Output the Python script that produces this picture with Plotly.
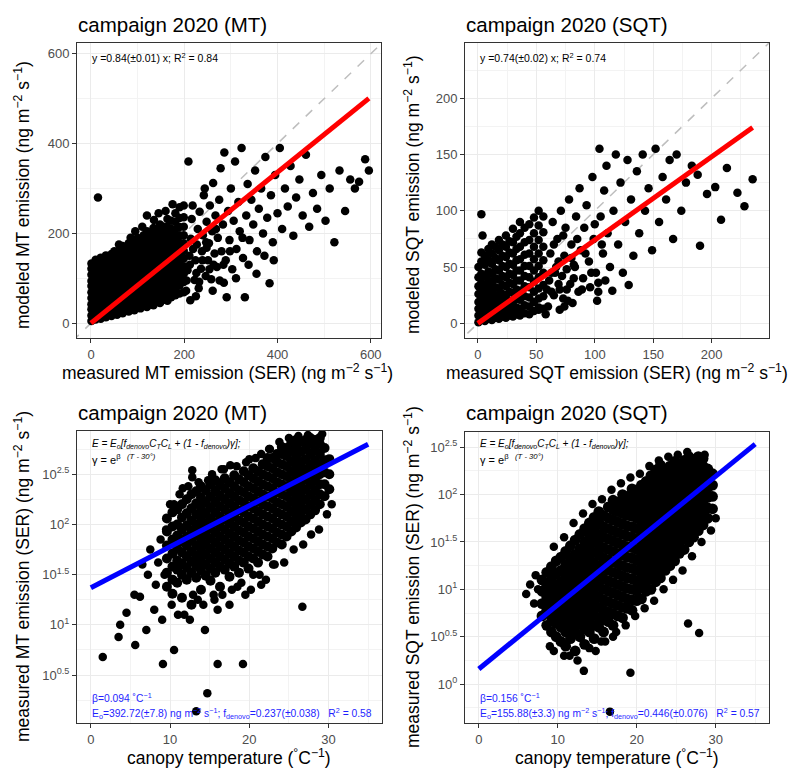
import math
import plotly.graph_objects as go

# ---------------- data ----------------
# Panel 1: MT, measured (x) vs modeled (y). Dense core read column by column ...
mt_core_measured = [1, 5, 10, 15, 21, 26, 32, 38, 44, 50, 56, 62, 68, 75, 81, 87, 93, 100, 106, 113, 120, 127, 134,
                    141, 148, 156, 164, 172, 181, 190, 199]
mt_core_modeled = [
    [5, 17, 31, 42, 56, 69, 83, 94, 108, 121, 133],
    [12, 24, 37, 49, 62, 76, 88, 101, 115, 127],
    [8, 19, 28, 44, 53, 67, 80, 91, 104, 118, 129, 141],
    [14, 26, 39, 50, 63, 72, 86, 97, 110, 123, 136, 280],
    [10, 22, 34, 47, 58, 71, 82, 95, 106, 119, 131, 146],
    [17, 29, 41, 54, 66, 78, 90, 103, 114, 127, 140],
    [13, 25, 38, 50, 61, 74, 87, 99, 111, 124, 137, 151],
    [20, 32, 45, 57, 68, 81, 93, 106, 119, 130, 144],
    [16, 28, 40, 53, 65, 77, 89, 102, 114, 126, 139, 154],
    [22, 35, 47, 60, 72, 85, 96, 109, 121, 134, 147, 160],
    [19, 31, 43, 56, 69, 80, 92, 105, 117, 130, 142, 157],
    [25, 38, 51, 63, 75, 88, 100, 112, 125, 138, 150, 165],
    [22, 34, 47, 59, 71, 84, 96, 108, 121, 134, 146, 159, 172],
    [28, 40, 53, 66, 78, 90, 103, 115, 127, 140, 152, 168],
    [26, 37, 49, 62, 74, 87, 99, 111, 124, 136, 149, 162, 178],
    [32, 44, 57, 69, 82, 94, 106, 119, 131, 144, 157, 170],
    [29, 41, 54, 66, 79, 91, 103, 116, 128, 141, 154, 166, 183],
    [35, 47, 60, 72, 85, 97, 110, 122, 135, 148, 160, 174, 190],
    [33, 45, 58, 70, 82, 95, 107, 120, 132, 145, 158, 171, 186],
    [38, 51, 63, 76, 88, 101, 113, 126, 139, 151, 164, 178, 196],
    [36, 48, 61, 73, 86, 98, 111, 123, 136, 149, 162, 176, 190, 205],
    [42, 55, 67, 80, 92, 105, 117, 130, 143, 155, 168, 183, 198],
    [40, 52, 65, 78, 90, 103, 115, 128, 141, 154, 168, 182, 197, 212],
    [47, 60, 72, 85, 97, 110, 122, 135, 148, 161, 175, 190, 206],
    [45, 58, 70, 83, 96, 108, 121, 134, 147, 160, 174, 189, 204, 220],
    [52, 65, 77, 90, 103, 116, 129, 142, 155, 169, 184, 199, 215],
    [50, 62, 75, 88, 101, 114, 127, 140, 154, 168, 183, 198, 214, 232],
    [58, 71, 84, 97, 110, 123, 137, 150, 164, 179, 194, 210, 228],
    [62, 76, 90, 104, 118, 132, 146, 161, 176, 192, 209, 226, 245],
    [66, 84, 100, 116, 131, 147, 163, 179, 196, 214, 234, 258],
    [69, 92, 110, 127, 144, 161, 178, 196, 215, 236, 262],
]
# ... and the scattered points beyond it
mt_extra_measured = [204, 207, 211, 214, 216, 218, 222, 224, 227, 229, 233, 236, 238, 240, 242, 246, 248, 251, 253,
                     255, 258, 260, 262, 265, 267, 270, 272, 275, 278, 280, 283, 286, 289, 291, 294, 297, 300, 303,
                     306, 309, 312, 316, 319, 323, 326, 330, 333, 336, 340, 344, 348, 352, 356, 360, 365, 369, 374,
                     378, 383, 386, 390, 395, 400, 405, 410, 416, 422, 428, 434, 440, 447, 454, 461, 468, 476, 485,
                     494, 503, 512, 522, 533, 545, 556, 566, 575, 588, 596, 209, 213, 231, 244, 263, 285, 248, 226,
                     205, 212, 219, 225, 232, 239, 247, 254, 261, 268, 276, 284, 298, 311, 325, 338, 355, 372, 392,
                     60, 85, 110, 135, 160, 175, 120, 95, 145]
mt_extra_modeled = [72, 118, 150, 188, 232, 262, 96, 140, 175, 210, 248, 121, 160, 196, 285, 105, 226, 140, 178,
                    262, 98, 205, 312, 155, 240, 125, 190, 275, 345, 160, 220, 380, 140, 58, 250, 185, 300, 120,
                    228, 360, 165, 270, 205, 390, 145, 58, 240, 310, 185, 275, 220, 340, 160, 255, 300, 200, 370,
                    235, 89, 285, 180, 330, 245, 390, 210, 300, 260, 350, 195, 280, 320, 240, 375, 215, 290, 255,
                    330, 228, 300, 180, 340, 250, 320, 300, 315, 365, 340, 360, 51, 78, 300, 130, 90, 168, 112,
                    95, 130, 165, 60, 92, 140, 180, 120, 72, 210, 95, 130, 160, 100, 190, 130, 110, 150, 140,
                    175, 190, 215, 230, 250, 265, 240, 205, 245]

# Panel 2: SQT, measured (x) vs modeled (y); dense core by columns ...
sqt_core_measured = [0.5, 3, 4, 6, 9, 12, 15, 18, 21, 24, 27, 30, 33, 36, 40, 44, 48, 52, 56]
sqt_core_modeled = [
    [1, 7, 13, 19, 26, 33, 41, 50],
    [3, 9, 16, 22, 29, 36, 44, 55, 63, 97],
    [78],
    [2, 8, 14, 20, 27, 34, 42, 52, 60],
    [4, 10, 17, 24, 31, 38, 46, 56, 66],
    [3, 9, 15, 22, 29, 36, 44, 53, 62, 70],
    [5, 11, 18, 25, 32, 40, 48, 58, 68],
    [4, 10, 17, 24, 31, 39, 47, 56, 65, 74],
    [6, 12, 19, 26, 34, 42, 51, 60, 70],
    [5, 11, 18, 25, 33, 41, 50, 59, 68, 78],
    [7, 13, 20, 28, 36, 44, 53, 63, 73],
    [6, 12, 19, 27, 35, 43, 52, 62, 72, 84],
    [8, 14, 22, 30, 38, 47, 56, 66, 77],
    [7, 13, 21, 29, 38, 47, 57, 68, 80, 90],
    [9, 16, 24, 33, 42, 51, 61, 72, 85],
    [8, 15, 23, 32, 41, 51, 62, 74, 88],
    [11, 19, 28, 37, 47, 57, 68, 80, 94],
    [12, 14, 22, 31, 41, 51, 62, 74, 87, 100],
    [13, 24, 34, 45, 56, 68, 81, 95],
]
# ... and the scattered points beyond it
sqt_extra_measured = [60, 61, 62, 64, 65, 67, 68, 70, 71, 72, 74, 75, 77, 78, 79, 80, 81, 83, 84, 86, 87, 88, 90, 91,
                      93, 95, 96, 98, 99, 101, 103, 103, 104, 105, 107, 108, 110, 111, 113, 115, 116, 118, 120, 122,
                      124, 126, 128, 129, 131, 133, 136, 138, 141, 143, 146, 149, 152, 155, 158, 161, 164, 167, 170,
                      174, 178, 183, 188, 190, 196, 203, 208, 213, 222, 228, 235, 63, 69, 73, 82, 66, 76,
                      58, 59, 63, 65, 69, 70, 73, 74, 76, 80, 82, 85, 89, 92, 97, 100, 102, 106, 109]
sqt_extra_modeled = [15, 38, 62, 90, 25, 50, 75, 12, 100, 42, 60, 85, 20, 110, 35, 70, 18, 50, 95, 28, 120, 65, 40,
                     85, 105, 55, 32, 130, 75, 45, 28, 36, 155, 95, 62, 118, 140, 80, 50, 29, 100, 150, 70, 125, 45,
                     90, 145, 34, 110, 60, 135, 80, 150, 100, 120, 65, 155, 90, 130, 110, 145, 75, 150, 100, 125,
                     140, 132, 69, 115, 121, 92, 138, 116, 104, 128, 28, 35, 22, 52, 45, 30,
                     8, 30, 45, 70, 55, 30, 78, 15, 48, 58, 40, 75, 30, 62, 45, 88, 20, 70, 38]

# Panel 3: MT, canopy temperature (°C) vs log10 of measured SER; dense core by columns ...
mt_core_temp = [9.6, 10.3, 10.9, 11.5, 12.1, 12.7, 13.3, 13.9, 14.5, 15.1, 15.7, 16.3, 16.9, 17.5, 18.1, 18.7,
                19.3, 19.9, 20.5, 21.1, 21.7, 22.3, 22.9, 23.5, 24.1, 24.7, 25.3, 25.9, 26.5, 27.1, 27.7, 28.3,
                28.9, 29.5, 30.1]
mt_core_log10_ser = [
    [1.38, 1.52, 1.66, 1.79, 1.93, 2.06],
    [1.31, 1.45, 1.58, 1.71, 1.85, 1.98, 2.12],
    [1.42, 1.55, 1.64, 1.76, 1.89, 2.0, 2.15],
    [1.27, 1.5, 1.61, 1.72, 1.83, 1.95, 2.07, 2.2],
    [1.45, 1.57, 1.68, 1.79, 1.88, 1.99, 2.11, 2.25],
    [1.2, 1.52, 1.63, 1.73, 1.84, 1.94, 2.04, 2.16, 2.3],
    [1.47, 1.59, 1.69, 1.79, 1.9, 2.0, 2.1, 2.21, 2.33],
    [1.35, 1.54, 1.64, 1.75, 1.85, 1.95, 2.06, 2.16, 2.27, 2.38],
    [1.49, 1.6, 1.7, 1.8, 1.9, 2.01, 2.11, 2.22, 2.34],
    [1.44, 1.56, 1.66, 1.76, 1.86, 1.96, 2.06, 2.17, 2.28, 2.4],
    [1.52, 1.62, 1.72, 1.82, 1.92, 2.02, 2.12, 2.23, 2.34, 2.44],
    [1.38, 1.58, 1.68, 1.78, 1.88, 1.98, 2.08, 2.18, 2.29, 2.4],
    [1.55, 1.65, 1.75, 1.85, 1.95, 2.05, 2.15, 2.25, 2.36, 2.46],
    [1.48, 1.61, 1.71, 1.81, 1.91, 2.01, 2.11, 2.21, 2.31, 2.42],
    [1.58, 1.68, 1.78, 1.88, 1.98, 2.08, 2.18, 2.28, 2.38, 2.49],
    [1.52, 1.64, 1.74, 1.84, 1.94, 2.04, 2.14, 2.24, 2.34, 2.45],
    [1.62, 1.72, 1.82, 1.92, 2.02, 2.12, 2.22, 2.32, 2.42, 2.53],
    [1.56, 1.68, 1.78, 1.88, 1.98, 2.08, 2.18, 2.28, 2.38, 2.49],
    [1.66, 1.76, 1.86, 1.96, 2.06, 2.16, 2.26, 2.36, 2.46, 2.56],
    [1.62, 1.73, 1.83, 1.93, 2.03, 2.13, 2.23, 2.33, 2.43, 2.53],
    [1.7, 1.8, 1.9, 2.0, 2.1, 2.2, 2.3, 2.4, 2.5, 2.6],
    [1.68, 1.78, 1.88, 1.98, 2.08, 2.18, 2.28, 2.38, 2.48, 2.58, 2.66],
    [1.76, 1.86, 1.96, 2.06, 2.16, 2.26, 2.36, 2.46, 2.56, 2.66],
    [1.82, 1.92, 2.02, 2.12, 2.22, 2.32, 2.42, 2.52, 2.62, 2.7],
    [1.8, 1.9, 2.0, 2.1, 2.2, 2.3, 2.4, 2.5, 2.6, 2.7, 2.77],
    [1.88, 1.98, 2.08, 2.18, 2.28, 2.38, 2.48, 2.58, 2.68, 2.76],
    [1.93, 2.03, 2.13, 2.23, 2.33, 2.43, 2.53, 2.63, 2.73, 2.81],
    [1.97, 2.07, 2.17, 2.27, 2.37, 2.47, 2.57, 2.67, 2.77, 2.84],
    [2.02, 2.12, 2.22, 2.32, 2.42, 2.52, 2.62, 2.72, 2.82],
    [2.05, 2.15, 2.25, 2.35, 2.45, 2.55, 2.65, 2.75, 2.84],
    [2.1, 2.2, 2.3, 2.4, 2.5, 2.6, 2.7, 2.8, 2.86],
    [2.14, 2.24, 2.34, 2.44, 2.54, 2.64, 2.74, 2.84],
    [2.2, 2.3, 2.4, 2.5, 2.6, 2.7, 2.8, 2.86],
    [2.28, 2.4, 2.52, 2.64, 2.76],
    [2.35, 2.5, 2.65],
]
# ... and the scattered points around it
mt_extra_temp = [1.5, 3.5, 3.7, 4.5, 5.5, 5.6, 6.2, 6.5, 7.0, 7.2, 7.5, 8.0, 8.2, 8.5, 8.8, 9.1, 9.0, 9.3, 9.5,
                 10.5, 11.6, 12.8, 12.8, 13.3, 14.7, 14.8, 16.0, 16.0, 17.6, 19.2, 19.5, 21.5, 26.7, 12.5, 14.4,
                 17.5, 11.0, 13.5, 15.5, 18.5, 20.5, 23.0, 10.0, 16.5, 20.0, 22.5,
                 10.5, 11.2, 12.3, 13.6, 15.3, 16.8, 18.4, 19.6, 20.8, 21.5, 22.6, 23.8, 25.0, 26.2, 27.4, 29.2,
                 10.2, 11.8, 12.9, 14.2, 15.6, 16.6, 17.8, 19.0, 20.2, 21.3, 22.1, 23.2, 24.4, 25.6, 26.8, 27.8,
                 28.8, 29.8, 30.4]
mt_extra_log10_ser = [0.68, 0.88, 1.0, 1.12, 1.3, 0.8, 1.28, 1.6, 0.95, 1.5, 1.75, 1.15, 1.4, 1.62, 1.85, 0.61,
                      1.05, 1.5, 1.95, 0.75, 2.36, 2.47, 2.54, 0.14, 0.32, 2.44, 0.61, 1.15, 2.59, 0.61, 1.3, 1.4,
                      1.18, 1.05, 0.95, 1.2, 1.1, 1.25, 1.3, 1.38, 1.5, 1.6, 2.2, 2.55, 2.65, 2.75,
                      2.2, 2.3, 2.38, 2.42, 2.5, 2.55, 2.58, 2.62, 2.66, 2.7, 2.75, 2.82, 2.86, 2.88, 2.89, 2.9,
                      1.2, 1.1, 1.3, 1.2, 1.25, 1.3, 1.35, 1.42, 1.35, 1.5, 1.45, 1.6, 1.62, 1.75, 1.8, 1.9,
                      1.95, 2.1, 2.2]

# Panel 4: SQT, canopy temperature (°C) vs log10 of measured SER; dense core by columns ...
sqt_core_temp = [8.0, 8.6, 9.2, 9.8, 10.4, 11.0, 11.6, 12.2, 12.8, 13.4, 14.0, 14.6, 15.2, 15.8, 16.4, 17.0,
                 17.6, 18.2, 18.8, 19.4, 20.0, 20.6, 21.2, 21.8, 22.4, 23.0, 23.6, 24.2, 24.8, 25.4, 26.0, 26.6,
                 27.2, 27.8, 28.4, 29.0, 29.6]
sqt_core_log10_ser = [
    [0.72, 0.85, 0.98, 1.1],
    [0.62, 0.78, 0.92, 1.04, 1.18],
    [0.55, 0.7, 0.84, 0.97, 1.1, 1.24],
    [0.5, 0.64, 0.77, 0.9, 1.03, 1.16, 1.3],
    [0.45, 0.6, 0.72, 0.84, 0.96, 1.08, 1.2, 1.34],
    [0.4, 0.55, 0.68, 0.79, 0.9, 1.02, 1.14, 1.26, 1.4],
    [0.48, 0.62, 0.74, 0.85, 0.96, 1.08, 1.2, 1.32, 1.46],
    [0.35, 0.55, 0.68, 0.8, 0.91, 1.02, 1.13, 1.25, 1.37, 1.52],
    [0.5, 0.63, 0.75, 0.86, 0.97, 1.08, 1.19, 1.31, 1.43, 1.58],
    [0.42, 0.58, 0.7, 0.81, 0.92, 1.03, 1.14, 1.25, 1.37, 1.5, 1.64],
    [0.55, 0.66, 0.77, 0.88, 0.99, 1.1, 1.21, 1.32, 1.44, 1.57, 1.7],
    [0.48, 0.62, 0.73, 0.84, 0.95, 1.06, 1.17, 1.28, 1.39, 1.51, 1.64, 1.76],
    [0.6, 0.7, 0.81, 0.92, 1.03, 1.14, 1.25, 1.36, 1.47, 1.58, 1.71, 1.82],
    [0.55, 0.68, 0.78, 0.89, 1.0, 1.11, 1.22, 1.33, 1.44, 1.55, 1.66, 1.78],
    [0.66, 0.76, 0.87, 0.98, 1.09, 1.2, 1.31, 1.42, 1.53, 1.64, 1.75, 1.87],
    [0.62, 0.74, 0.85, 0.96, 1.07, 1.18, 1.29, 1.4, 1.51, 1.62, 1.73, 1.84, 1.94],
    [0.72, 0.83, 0.94, 1.05, 1.16, 1.27, 1.38, 1.49, 1.6, 1.71, 1.82, 1.92],
    [0.7, 0.81, 0.92, 1.03, 1.14, 1.25, 1.36, 1.47, 1.58, 1.69, 1.8, 1.9, 2.0],
    [0.8, 0.9, 1.01, 1.12, 1.23, 1.34, 1.45, 1.56, 1.67, 1.78, 1.88, 1.98],
    [0.78, 0.89, 1.0, 1.11, 1.22, 1.33, 1.44, 1.55, 1.66, 1.77, 1.87, 1.97, 2.06],
    [0.88, 0.98, 1.09, 1.2, 1.31, 1.42, 1.53, 1.64, 1.75, 1.86, 1.96, 2.05],
    [0.9, 1.02, 1.13, 1.24, 1.35, 1.46, 1.57, 1.68, 1.79, 1.9, 2.0, 2.1],
    [0.98, 1.08, 1.19, 1.3, 1.41, 1.52, 1.63, 1.74, 1.85, 1.95, 2.05, 2.14],
    [1.0, 1.12, 1.23, 1.34, 1.45, 1.56, 1.67, 1.78, 1.89, 1.99, 2.09, 2.2],
    [1.08, 1.18, 1.29, 1.4, 1.51, 1.62, 1.73, 1.84, 1.94, 2.04, 2.14, 2.26],
    [1.12, 1.23, 1.34, 1.45, 1.56, 1.67, 1.78, 1.88, 1.98, 2.08, 2.19, 2.31],
    [1.2, 1.3, 1.41, 1.52, 1.63, 1.74, 1.84, 1.94, 2.04, 2.14, 2.24],
    [1.25, 1.36, 1.47, 1.58, 1.69, 1.8, 1.9, 2.0, 2.1, 2.2, 2.3],
    [1.3, 1.42, 1.53, 1.64, 1.75, 1.86, 1.96, 2.06, 2.16, 2.26, 2.35],
    [1.38, 1.48, 1.59, 1.7, 1.81, 1.92, 2.02, 2.12, 2.22, 2.32],
    [1.42, 1.54, 1.65, 1.76, 1.87, 1.97, 2.07, 2.17, 2.27, 2.36],
    [1.5, 1.6, 1.71, 1.82, 1.93, 2.03, 2.13, 2.23, 2.33, 2.4],
    [1.55, 1.66, 1.77, 1.88, 1.98, 2.08, 2.18, 2.28, 2.37],
    [1.62, 1.72, 1.83, 1.94, 2.04, 2.14, 2.24, 2.34, 2.4],
    [1.68, 1.79, 1.9, 2.0, 2.1, 2.2, 2.3, 2.38],
    [1.75, 1.86, 1.97, 2.07, 2.17, 2.27],
    [1.85, 1.98, 2.1, 2.22],
]
# ... and the scattered points around it
sqt_extra_temp = [6.0, 6.5, 7.0, 7.2, 7.5, 13.3, 19.2, 16.6, 26.5, 27.9, 11.5, 14.0, 15.5, 17.0, 9.0,
                  9.5, 10.8, 12.0, 13.2, 14.4, 15.6, 16.8, 18.0, 19.2, 20.4, 21.6, 22.8, 24.0, 25.2, 26.4, 28.6,
                  9.5, 10.8, 12.5, 14.8, 16.0, 17.4, 18.6, 19.8, 21.0, 22.2, 23.4, 24.6, 25.8, 27.0, 28.2, 29.4,
                  30.0]
sqt_extra_log10_ser = [0.95, 1.05, 0.85, 1.15, 1.0, 0.14, 0.12, -0.29, 0.64, 0.54, 0.3, 0.38, 0.45, 0.5, 0.4,
                       1.45, 1.55, 1.7, 1.8, 1.9, 1.95, 2.05, 2.12, 2.18, 2.22, 2.3, 2.36, 2.4, 2.42, 2.45, 2.42,
                       0.35, 0.3, 0.25, 0.35, 0.45, 0.55, 0.62, 0.72, 0.8, 0.88, 1.0, 1.1, 1.2, 1.35, 1.5, 1.62,
                       1.75]

mt_fit_temp = [0, 35]
sqt_fit_temp = [0, 35]
mt_beta, mt_eo = 0.094, 392.72
sqt_beta, sqt_eo = 0.156, 155.88
mt_slope, sqt_slope = 0.84, 0.74


def flatten(cols, vals):
    xs, ys = [], []
    for c, vs in zip(cols, vals):
        for v in vs:
            xs.append(c)
            ys.append(v)
    return xs, ys


mt_cx, mt_cy = flatten(mt_core_measured, mt_core_modeled)
sqt_cx, sqt_cy = flatten(sqt_core_measured, sqt_core_modeled)
mtT_c, mtL_c = flatten(mt_core_temp, mt_core_log10_ser)
sqT_c, sqL_c = flatten(sqt_core_temp, sqt_core_log10_ser)

# ---------------- figure ----------------
W, H = 788, 768


def px(x0, x1):
    return [x0 / W, x1 / W]


def py(y0, y1):
    return [1 - y1 / H, 1 - y0 / H]


fig = go.Figure()
FONT = "Liberation Sans, Arial, sans-serif"
TICKC = "#4D4D4D"
GRID = "#EBEBEB"
MK = dict(color="black", size=8.5, line=dict(width=0))
MK_CORE = dict(color="black", size=10, line=dict(width=0))
MK_CORE4 = dict(color="black", size=10.8, line=dict(width=0))


def pts(x, y, xa, ya, mk=MK):
    fig.add_trace(go.Scatter(x=x, y=y, mode="markers", marker=mk, xaxis=xa, yaxis=ya))


# panel 1
fig.add_trace(go.Scatter(x=[-40, 640], y=[-40, 640], mode="lines", line=dict(color="#BEBEBE", width=1.5, dash="dash"),
                         xaxis="x", yaxis="y", hoverinfo="skip"))
pts(mt_cx, mt_cy, "x", "y")
pts(mt_extra_measured, mt_extra_modeled, "x", "y")
mx = max(mt_cx + mt_extra_measured)
fig.add_trace(go.Scatter(x=[0, mx], y=[0, mt_slope * mx], mode="lines", line=dict(color="#FF0000", width=5),
                         xaxis="x", yaxis="y"))
# panel 2
fig.add_trace(go.Scatter(x=[-20, 260], y=[-20, 260], mode="lines", line=dict(color="#BEBEBE", width=1.5, dash="dash"),
                         xaxis="x2", yaxis="y2", hoverinfo="skip"))
pts(sqt_cx, sqt_cy, "x2", "y2")
pts(sqt_extra_measured, sqt_extra_modeled, "x2", "y2")
sx = max(sqt_cx + sqt_extra_measured)
fig.add_trace(go.Scatter(x=[0, sx], y=[0, sqt_slope * sx], mode="lines", line=dict(color="#FF0000", width=5),
                         xaxis="x2", yaxis="y2"))
# panel 3
pts(mtT_c, [10 ** v for v in mtL_c], "x3", "y3", MK_CORE)
pts(mt_extra_temp, [10 ** v for v in mt_extra_log10_ser], "x3", "y3")
fig.add_trace(go.Scatter(x=mt_fit_temp, y=[mt_eo * math.exp(mt_beta * (t - 30)) for t in mt_fit_temp], mode="lines",
                         line=dict(color="#0000FF", width=5), xaxis="x3", yaxis="y3"))
# panel 4
pts(sqT_c, [10 ** v for v in sqL_c], "x4", "y4", MK_CORE4)
pts(sqt_extra_temp, [10 ** v for v in sqt_extra_log10_ser], "x4", "y4")
fig.add_trace(go.Scatter(x=sqt_fit_temp, y=[sqt_eo * math.exp(sqt_beta * (t - 30)) for t in sqt_fit_temp], mode="lines",
                         line=dict(color="#0000FF", width=5), xaxis="x4", yaxis="y4"))


def ax(domain, rng, tickvals, ticktext=None, minor=None, anchor=None, typ="linear"):
    d = dict(domain=domain, range=rng, tickvals=tickvals, showgrid=True, gridcolor=GRID, gridwidth=1,
             zeroline=False, showline=True, linecolor="#333333", linewidth=1, mirror=True,
             ticks="outside", ticklen=4, tickcolor="#333333", tickwidth=1,
             tickfont=dict(family=FONT, size=13, color=TICKC), anchor=anchor, type=typ)
    if ticktext is not None:
        d["ticktext"] = ticktext
        d["tickmode"] = "array"
    if minor is not None:
        d["minor"] = dict(tickvals=minor, showgrid=True, gridcolor="#F3F3F3", gridwidth=0.6, ticks="")
    return d


lg = lambda e: 10 ** e
fig.update_layout(
    width=W, height=H, margin=dict(l=0, r=0, t=0, b=0), showlegend=False,
    plot_bgcolor="white", paper_bgcolor="white", font=dict(family=FONT),
    xaxis=ax(px(77, 381), [-30, 622], [0, 200, 400, 600], minor=[100, 300, 500], anchor="y"),
    yaxis=ax(py(43, 338), [-33, 624], [0, 200, 400, 600], minor=[100, 300, 500], anchor="x"),
    xaxis2=ax(px(465, 769), [-11, 249], [0, 50, 100, 150, 200], minor=[25, 75, 125, 175, 225], anchor="y2"),
    yaxis2=ax(py(43, 338), [-13, 249], [0, 50, 100, 150, 200], minor=[25, 75, 125, 175, 225], anchor="x2"),
    xaxis3=ax(px(77, 382), [-1.75, 36.75], [0, 10, 20, 30], minor=[5, 15, 25, 35], anchor="y3"),
    yaxis3=ax(py(431, 723), [0.023, 2.93], [lg(0.5), lg(1), lg(1.5), lg(2), lg(2.5)],
              ticktext=["10<sup>0.5</sup>", "10<sup>1</sup>", "10<sup>1.5</sup>", "10<sup>2</sup>", "10<sup>2.5</sup>"],
              minor=[lg(0.25), lg(0.75), lg(1.25), lg(1.75), lg(2.25), lg(2.75)], anchor="x3", typ="log"),
    xaxis4=ax(px(465, 769), [-1.75, 36.75], [0, 10, 20, 30], minor=[5, 15, 25, 35], anchor="y4"),
    yaxis4=ax(py(432, 723), [-0.41, 2.66], [lg(0), lg(0.5), lg(1), lg(1.5), lg(2), lg(2.5)],
              ticktext=["10<sup>0</sup>", "10<sup>0.5</sup>", "10<sup>1</sup>", "10<sup>1.5</sup>", "10<sup>2</sup>", "10<sup>2.5</sup>"],
              minor=[lg(-0.25), lg(0.25), lg(0.75), lg(1.25), lg(1.75), lg(2.25)], anchor="x4", typ="log"),
)

ann = []


def A(text, x, y, size, xanchor="left", yanchor="middle", color="black", angle=0):
    ann.append(dict(text=text, x=x / W, y=1 - y / H, xref="paper", yref="paper", showarrow=False,
                    xanchor=xanchor, yanchor=yanchor, textangle=angle,
                    font=dict(family=FONT, size=size, color=color)))


# titles
A("campaign 2020 (MT)", 76, 24, 20.5)
A("campaign 2020 (SQT)", 464, 24, 20.5)
A("campaign 2020 (MT)", 76, 412, 20.5)
A("campaign 2020 (SQT)", 464, 412, 20.5)
# axis titles
A("measured MT emission (SER) (ng m<sup>−2</sup> s<sup>−1</sup>)", 228, 372, 17.5, xanchor="center")
A("measured SQT emission (SER) (ng m<sup>−2</sup> s<sup>−1</sup>)", 617, 372, 17.5, xanchor="center")
A("canopy temperature (<sup>°</sup>C<sup>−1</sup>)", 229, 757, 17.5, xanchor="center")
A("canopy temperature (<sup>°</sup>C<sup>−1</sup>)", 617, 757, 17.5, xanchor="center")
A("modeled MT emission (ng m<sup>−2</sup> s<sup>−1</sup>)", 22, 195, 17.5, xanchor="center", angle=-90)
A("modeled SQT emission (ng m<sup>−2</sup> s<sup>−1</sup>)", 412, 195, 17.5, xanchor="center", angle=-90)
A("measured MT emission (SER) (ng m<sup>−2</sup> s<sup>−1</sup>)", 22, 577, 17.5, xanchor="center", angle=-90)
A("measured SQT emission (SER) (ng m<sup>−2</sup> s<sup>−1</sup>)", 412, 577, 17.5, xanchor="center", angle=-90)
# in-panel texts
A("y =0.84(±0.01) x; R<sup>2</sup> = 0.84", 90, 57, 10.5)
A("y =0.74(±0.02) x; R<sup>2</sup> = 0.74", 478, 57, 10.5)
for x0 in (90, 478):
    A("<i>E = E<sub>o</sub>[f<sub>denovo</sub>C<sub>T</sub>C<sub>L</sub> + (1 - f<sub>denovo</sub>)γ];</i>", x0, 444, 10)
    A("γ = e<sup>β   <i>(T - 30°)</i></sup>", x0, 459, 11)
A("β=0.094 ˚C<sup>−1</sup>", 90, 697, 10.3, color="#1F1FFF")
A("E<sub>o</sub>=392.72(±7.8) ng m<sup>−2</sup> s<sup>−1</sup>; f<sub>denovo</sub>=0.237(±0.038)   R<sup>2</sup> = 0.58", 90, 713, 10.3, color="#1F1FFF")
A("β=0.156 ˚C<sup>−1</sup>", 478, 697, 10.3, color="#1F1FFF")
A("E<sub>o</sub>=155.88(±3.3) ng m<sup>−2</sup> s<sup>−1</sup>; f<sub>denovo</sub>=0.446(±0.076)   R<sup>2</sup> = 0.57", 478, 713, 10.3, color="#1F1FFF")
fig.update_layout(annotations=ann)

fig.write_html("out.html")
